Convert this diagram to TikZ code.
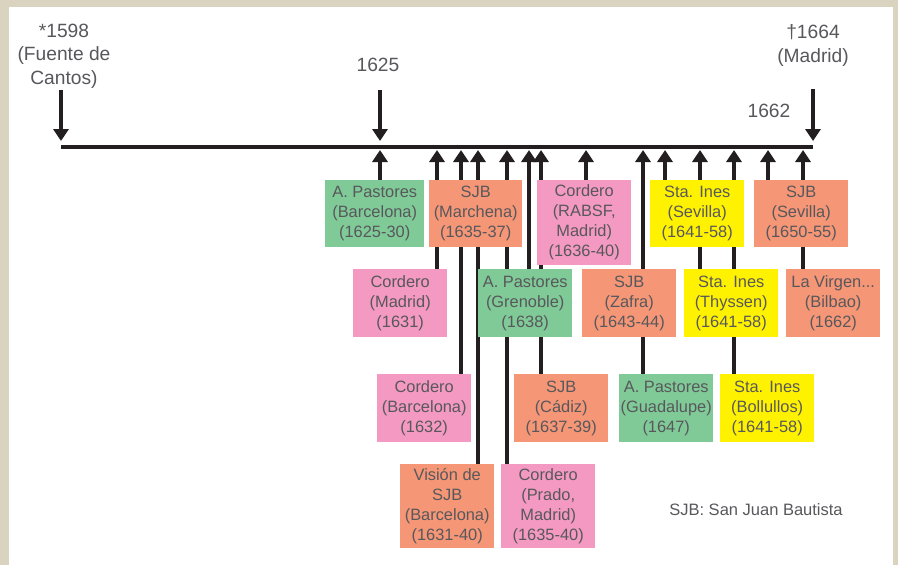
\documentclass[tikz,border=0pt]{standalone}
\usepackage{fontspec}
\setmainfont{Liberation Sans}
\usetikzlibrary{arrows.meta,backgrounds}
\definecolor{frameC}{RGB}{217,211,192}
\definecolor{txtC}{RGB}{88,88,92}
\definecolor{lineC}{RGB}{35,31,32}
\definecolor{greenC}{RGB}{128,202,152}
\definecolor{salmonC}{RGB}{245,150,118}
\definecolor{pinkC}{RGB}{244,153,193}
\definecolor{yellowC}{RGB}{255,242,0}
\tikzset{
  box/.style={rectangle, draw=none, anchor=north west, inner sep=0pt, align=center,
    text=txtC, font=\fontsize{16.4}{20}\selectfont},
  bw/.style={minimum width=94pt},
  h3/.style={minimum height=68pt},
  h4/.style={minimum height=84pt},
  gbox/.style={box, fill=greenC},
  sbox/.style={box, fill=salmonC},
  pbox/.style={box, fill=pinkC},
  ybox/.style={box, fill=yellowC},
  toplabel/.style={align=center, text=txtC, inner sep=0pt, font=\fontsize{19.2}{23.5}\selectfont},
  tline/.style={draw=lineC, line width=3.2pt},
  uparrow/.style={draw=lineC, line width=3.2pt, -{Triangle[length=12pt,width=15pt]}},
  dnarrow/.style={draw=lineC, line width=3.2pt, -{Triangle[length=12pt,width=15pt]}},
}
\begin{document}
\begin{tikzpicture}[x=1pt,y=-1pt]
\useasboundingbox (0,0) rectangle (898,565);
\begin{pgfonlayer}{background}
\fill[frameC] (0,0) rectangle (898,565);
\fill[white] (9,7) rectangle (893,565);
\end{pgfonlayer}

% top labels
\node[toplabel] (l1598) at (64,56) {*1598\\(Fuente de\\Cantos)};
\node[toplabel] (l1625) at (378,65) {1625};
\node[toplabel] (l1664) at (813,45.5) {†1664\\(Madrid)};
\node[toplabel] (l1662) at (769,111) {1662};
\node[text=txtC, inner sep=0pt, font=\fontsize{16.5}{20}\selectfont] (note) at (756,510) {SJB: San Juan Bautista};

% timeline
\coordinate (tlA) at (61,147);
\coordinate (tlB) at (813,147);
\draw[tline] (tlA) -- (tlB);

% down arrows
\coordinate (d1s) at (61,90);   \coordinate (d1e) at (61,141);
\coordinate (d2s) at (380,90);  \coordinate (d2e) at (380,141);
\coordinate (d3s) at (813,89);  \coordinate (d3e) at (813,141);
\draw[dnarrow] (d1s) -- (d1e);
\draw[dnarrow] (d2s) -- (d2e);
\draw[dnarrow] (d3s) -- (d3e);

% row 1
\node[gbox, minimum width=99pt, minimum height=67pt] (apb) at (325,180) {A. Pastores\\(Barcelona)\\(1625-30)};
\node[sbox, minimum width=93pt, minimum height=67pt] (smar) at (429,180) {SJB\\(Marchena)\\(1635-37)};
\node[pbox, bw, minimum height=85pt] (crab) at (537,180) {Cordero\\(RABSF,\\Madrid)\\(1636-40)};
\node[ybox, bw, minimum height=67pt] (sise) at (650,180) {Sta. Ines\\(Sevilla)\\(1641-58)};
\node[sbox, bw, minimum height=67pt] (ssev) at (754,180) {SJB\\(Sevilla)\\(1650-55)};
% row 2
\node[pbox, bw, h3] (cmad) at (353,269) {Cordero\\(Madrid)\\(1631)};
\node[gbox, bw, h3] (apg) at (478,269) {A. Pastores\\(Grenoble)\\(1638)};
\node[sbox, bw, h3] (szaf) at (582,269) {SJB\\(Zafra)\\(1643-44)};
\node[ybox, bw, h3] (sith) at (684,269) {Sta. Ines\\(Thyssen)\\(1641-58)};
\node[sbox, bw, h3] (lvir) at (786,269) {La Virgen...\\(Bilbao)\\(1662)};
% row 3
\node[pbox, bw, h3] (cbar) at (377,374) {Cordero\\(Barcelona)\\(1632)};
\node[sbox, bw, h3] (scad) at (514,374) {SJB\\(Cádiz)\\(1637-39)};
\node[gbox, bw, h3] (apgu) at (619,374) {A. Pastores\\(Guadalupe)\\(1647)};
\node[ybox, bw, h3] (sibo) at (720,374) {Sta. Ines\\(Bollullos)\\(1641-58)};
% row 4
\node[sbox, bw, h4] (vis) at (400,464) {Visión de\\SJB\\(Barcelona)\\(1631-40)};
\node[pbox, bw, h4] (cpr) at (501,464) {Cordero\\(Prado,\\Madrid)\\(1635-40)};

% arrow end points on the timeline
\foreach \n/\xx in {a/380,b/437,c/461,d/478,e/507,f/529,g/541,h/586,i/643,j/665,k/700,l/734,m/768,n/803}
  \coordinate (t\n) at (\xx,150);

\begin{scope}[on background layer]
\draw[uparrow] (ta |- apb.north) -- (ta);
\draw[uparrow] (tb |- cmad.north) -- (tb);
\draw[uparrow] (tc |- cbar.north) -- (tc);
\draw[uparrow] (td |- vis.north) -- (td);
\draw[uparrow] (te |- cpr.north) -- (te);
\draw[uparrow] (tf |- apg.north) -- (tf);
\draw[uparrow] (tg |- scad.north) -- (tg);
\draw[uparrow] (th |- crab.north) -- (th);
\draw[uparrow] (ti |- apgu.north) -- (ti);
\draw[uparrow] (tj |- sise.north) -- (tj);
\draw[uparrow] (tk |- sith.north) -- (tk);
\draw[uparrow] (tl |- sibo.north) -- (tl);
\draw[uparrow] (tm |- ssev.north) -- (tm);
\draw[uparrow] (tn |- lvir.north) -- (tn);
\end{scope}
\end{tikzpicture}
\end{document}
